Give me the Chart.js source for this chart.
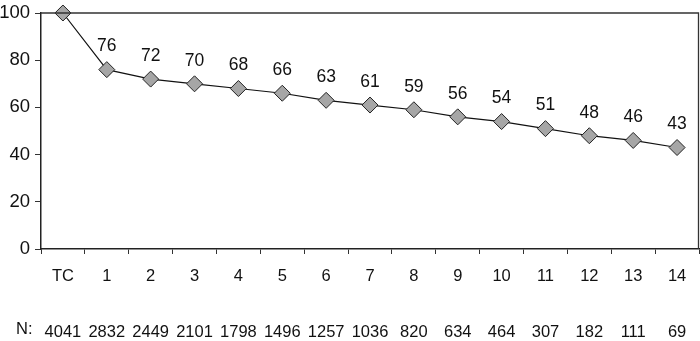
<!DOCTYPE html>
<html>
<head>
<meta charset="utf-8">
<script src="https://cdn.jsdelivr.net/npm/chart.js@4/dist/chart.umd.min.js"></script>
<style>
  html, body { margin: 0; padding: 0; background: #fff; overflow: hidden; }
  #wrap { width: 700px; height: 341px; position: relative; overflow: hidden; }
  canvas { display: block; }
</style>
</head>
<body>
<div id="wrap"><canvas id="c"></canvas></div>
<script>
const categories = ['TC', '1', '2', '3', '4', '5', '6', '7', '8', '9', '10', '11', '12', '13', '14'];
const survival = [100, 76, 72, 70, 68, 66, 63, 61, 59, 56, 54, 51, 48, 46, 43];
const patientsN = [4041, 2832, 2449, 2101, 1798, 1496, 1257, 1036, 820, 634, 464, 307, 182, 111, 69];
const yTicks = [0, 20, 40, 60, 80, 100];
const nPrefix = 'N:';

const FONT = '"Liberation Sans Narrow", "Arial Narrow", "Liberation Sans", Arial, sans-serif';

const labels = categories.map((c, i) => [c, '', String(patientsN[i])]);

const frame = {
  id: 'frame',
  afterDatasetsDraw(chart) {
    const { ctx, chartArea: a } = chart;
    ctx.save();
    ctx.strokeStyle = '#333';
    ctx.lineWidth = 1.3;
    ctx.beginPath();
    ctx.moveTo(a.left, a.top);
    ctx.lineTo(a.right - 0.5, a.top);
    ctx.lineTo(a.right - 0.5, a.bottom);
    ctx.stroke();
    ctx.restore();
  }
};

const valueLabels = {
  id: 'valueLabels',
  afterDatasetsDraw(chart) {
    const { ctx } = chart;
    const meta = chart.getDatasetMeta(0);
    ctx.save();
    ctx.fillStyle = '#111';
    ctx.font = '17.5px ' + FONT;
    ctx.textAlign = 'center';
    ctx.textBaseline = 'middle';
    meta.data.forEach((pt, i) => {
      if (i === 0) return;
      ctx.fillText(String(survival[i]), pt.x, pt.y - 23);
    });
    ctx.restore();
  }
};

const nLabel = {
  id: 'nLabel',
  afterDraw(chart) {
    const { ctx } = chart;
    const xs = chart.scales.x;
    ctx.save();
    ctx.fillStyle = '#111';
    ctx.font = '16.5px ' + FONT;
    ctx.textAlign = 'left';
    ctx.textBaseline = 'middle';
    ctx.fillText(nPrefix, 16, xs.top + 80);
    ctx.restore();
  }
};

function noPad(scale) {
  scale.paddingLeft = 0;
  scale.paddingRight = 0;
  scale.paddingTop = 0;
  scale.paddingBottom = 0;
}

new Chart(document.getElementById('c'), {
  type: 'line',
  data: {
    labels: labels,
    datasets: [{
      data: survival,
      borderColor: '#111',
      borderWidth: 1.2,
      pointStyle: 'rectRot',
      pointRadius: 8,
      pointHoverRadius: 8,
      pointBackgroundColor: '#a6a6a6',
      pointBorderColor: '#222',
      pointBorderWidth: 1,
      tension: 0,
      clip: false
    }]
  },
  options: {
    responsive: true,
    maintainAspectRatio: false,
    animation: false,
    events: [],
    layout: { autoPadding: false, padding: { top: 13, right: 1, left: 0, bottom: 0 } },
    plugins: { legend: { display: false }, tooltip: { enabled: false } },
    scales: {
      x: {
        offset: true,
        grid: { offset: true, drawOnChartArea: false, drawTicks: true, tickLength: 5, color: '#333' },
        border: { display: true, color: '#222', width: 1.5 },
        ticks: {
          color: '#111',
          font: { family: FONT, size: 16.5, lineHeight: 1.7 },
          padding: 8,
          maxRotation: 0,
          autoSkip: false
        },
        afterFit(scale) { scale.height = 92; noPad(scale); }
      },
      y: {
        min: 0, max: 100,
        afterBuildTicks(scale) { scale.ticks = yTicks.map(v => ({ value: v })); },
        grid: { drawOnChartArea: false, drawTicks: true, tickLength: 6, color: '#333' },
        border: { display: true, color: '#222', width: 1.5 },
        ticks: {
          color: '#111',
          font: { family: FONT, size: 18.5 },
          padding: 5
        },
        afterFit(scale) { scale.width = 41; noPad(scale); }
      }
    }
  },
  plugins: [frame, valueLabels, nLabel]
});
</script>
</body>
</html>
